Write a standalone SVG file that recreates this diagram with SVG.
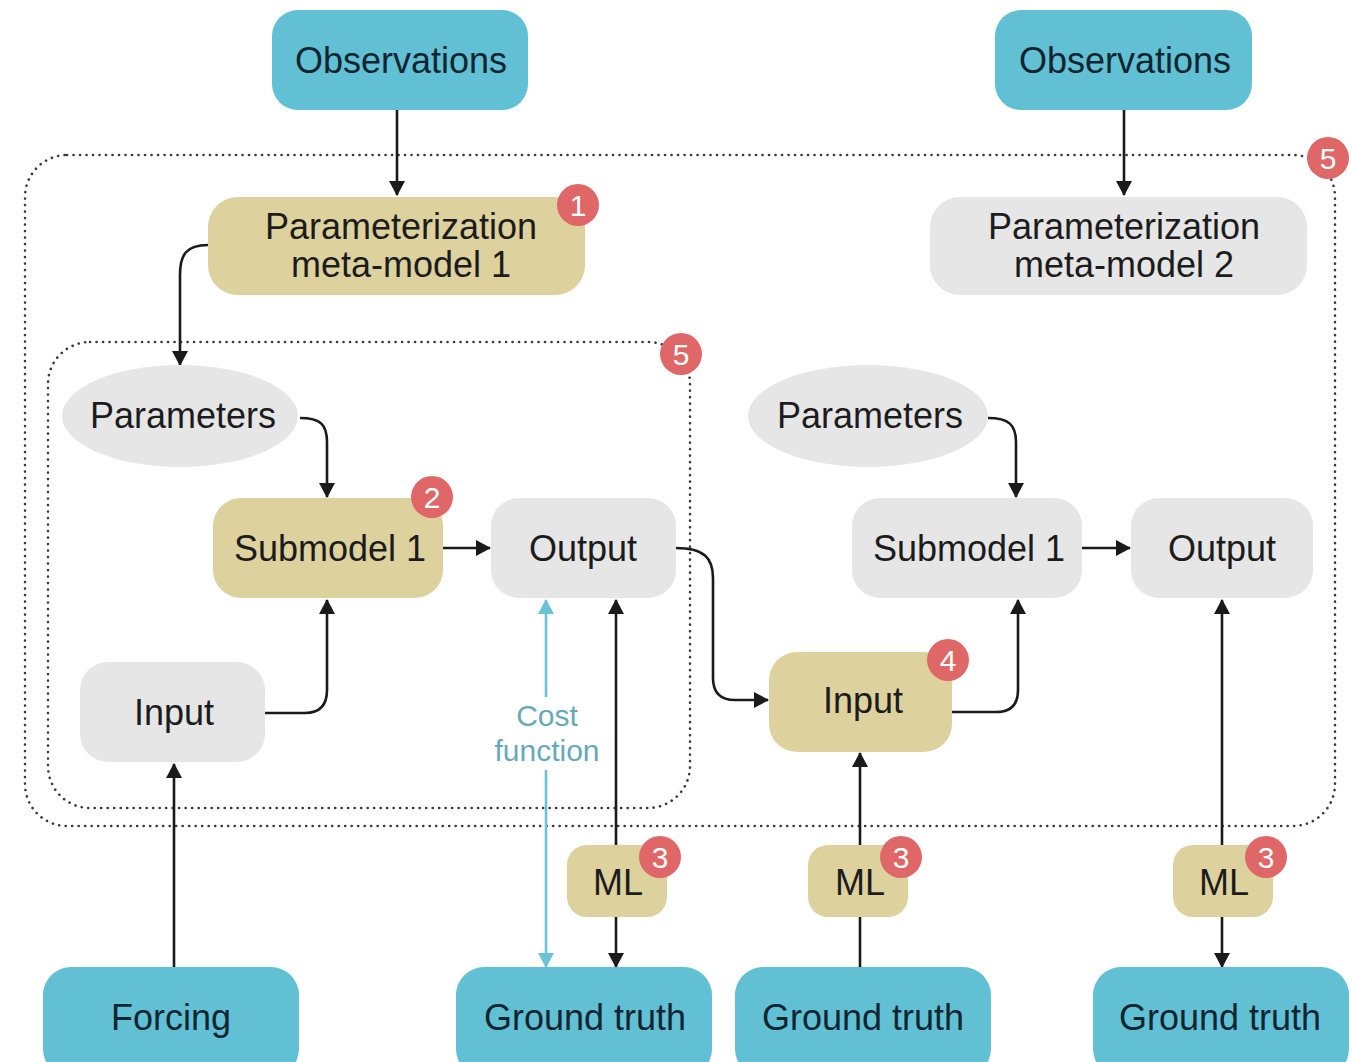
<svg xmlns="http://www.w3.org/2000/svg" width="1353" height="1062" viewBox="0 0 1353 1062">
  <style>
    .lbl { font-family: "Liberation Sans", Arial, Helvetica, sans-serif; font-size: 36px; fill: #1c1c1c; text-anchor: middle; }
    .lbl-dark { fill: #0f2530; }
    .teal { fill: #62c0d5; }
    .tan { fill: #ddd19d; }
    .grey { fill: #e6e6e6; }
    .badge circle { fill: #df6767; }
    .badge text { font-family: "Liberation Sans", Arial, sans-serif; font-size: 30px; fill: #ffffff; text-anchor: middle; }
    .frame { fill: none; stroke: #3a3a3a; stroke-width: 2.6; stroke-dasharray: 0.1 6.4; stroke-linecap: round; }
    .edge { fill: none; stroke: #1a1a1a; stroke-width: 2.6; }
    .cost { fill: none; stroke: #6cc3d8; stroke-width: 2.6; }
    .cost-lbl { font-family: "Liberation Sans", Arial, sans-serif; font-size: 30px; fill: #68a9b9; text-anchor: middle; }
  </style>
  <defs>
    <marker id="arrow" viewBox="0 0 15 16" refX="14" refY="8" markerWidth="15" markerHeight="16" markerUnits="userSpaceOnUse" orient="auto">
      <path d="M0,0 L15,8 L0,16 Z" fill="#1a1a1a"/>
    </marker>
    <marker id="arrow-cost" viewBox="0 0 15 16" refX="14" refY="8" markerWidth="15" markerHeight="16" markerUnits="userSpaceOnUse" orient="auto">
      <path d="M0,0 L15,8 L0,16 Z" fill="#6cc3d8"/>
    </marker>
  </defs>

  <rect width="1353" height="1062" fill="#ffffff"/>

  <!-- grouping frames -->
  <g id="frames">
    <rect class="frame" x="25" y="155" width="1310" height="671" rx="42"/>
    <rect class="frame" x="48" y="342" width="642" height="466" rx="42"/>
  </g>

  <!-- connectors -->
  <g id="connectors">
    <path class="edge" d="M397,110 V195" marker-end="url(#arrow)"/>
    <path class="edge" d="M1124,110 V195" marker-end="url(#arrow)"/>
    <path class="edge" d="M208,245 C186,245 180,255 180,275 V365" marker-end="url(#arrow)"/>
    <path class="edge" d="M300,418 C321,418 327,425 327,442 V497" marker-end="url(#arrow)"/>
    <path class="edge" d="M265,713 H305 Q327,713 327,690 V600" marker-end="url(#arrow)"/>
    <path class="edge" d="M443,548 H490" marker-end="url(#arrow)"/>
    <path class="edge" d="M174,967 V764" marker-end="url(#arrow)"/>
    <path class="cost" d="M546,697 V600" marker-end="url(#arrow-cost)"/>
    <path class="cost" d="M546,770 V967" marker-end="url(#arrow-cost)"/>
    <path class="edge" d="M616,845 V600" marker-end="url(#arrow)"/>
    <path class="edge" d="M616,917 V967" marker-end="url(#arrow)"/>
    <path class="edge" d="M676,548 C704,548 713,558 713,578 V678 Q713,700 735,700 H768" marker-end="url(#arrow)"/>
    <path class="edge" d="M952,712 H996 Q1018,712 1018,690 V600" marker-end="url(#arrow)"/>
    <path class="edge" d="M988,418 C1009,418 1016,425 1016,442 V497" marker-end="url(#arrow)"/>
    <path class="edge" d="M1082,548 H1130" marker-end="url(#arrow)"/>
    <path class="edge" d="M860,967 V917"/>
    <path class="edge" d="M860,845 V753" marker-end="url(#arrow)"/>
    <path class="edge" d="M1222,845 V600" marker-end="url(#arrow)"/>
    <path class="edge" d="M1222,917 V967" marker-end="url(#arrow)"/>
  </g>

  <!-- top sources -->
  <g id="observations-1">
    <rect class="teal" x="272" y="10" width="256" height="100" rx="26"/>
    <text class="lbl lbl-dark" x="401" y="73">Observations</text>
  </g>
  <g id="observations-2">
    <rect class="teal" x="995" y="10" width="257" height="100" rx="26"/>
    <text class="lbl lbl-dark" x="1125" y="73">Observations</text>
  </g>

  <!-- meta-models -->
  <g id="meta-model-1">
    <rect class="tan" x="208" y="197" width="377" height="98" rx="30"/>
    <text class="lbl" x="401" y="239">Parameterization</text>
    <text class="lbl" x="401" y="277">meta-model 1</text>
  </g>
  <g id="meta-model-2">
    <rect class="grey" x="930" y="197" width="377" height="98" rx="30"/>
    <text class="lbl" x="1124" y="239">Parameterization</text>
    <text class="lbl" x="1124" y="277">meta-model 2</text>
  </g>

  <!-- first submodel block -->
  <g id="parameters-1">
    <ellipse class="grey" cx="180" cy="416" rx="118" ry="51"/>
    <text class="lbl" x="183" y="428">Parameters</text>
  </g>
  <g id="submodel-1a">
    <rect class="tan" x="213" y="498" width="230" height="100" rx="28"/>
    <text class="lbl" x="330" y="561">Submodel 1</text>
  </g>
  <g id="output-1">
    <rect class="grey" x="491" y="498" width="185" height="100" rx="28"/>
    <text class="lbl" x="583" y="561">Output</text>
  </g>
  <g id="input-1">
    <rect class="grey" x="80" y="662" width="185" height="100" rx="28"/>
    <text class="lbl" x="174" y="725">Input</text>
  </g>

  <!-- second submodel block -->
  <g id="parameters-2">
    <ellipse class="grey" cx="868" cy="416" rx="120" ry="51"/>
    <text class="lbl" x="870" y="428">Parameters</text>
  </g>
  <g id="submodel-1b">
    <rect class="grey" x="852" y="498" width="230" height="100" rx="28"/>
    <text class="lbl" x="969" y="561">Submodel 1</text>
  </g>
  <g id="output-2">
    <rect class="grey" x="1131" y="498" width="182" height="100" rx="28"/>
    <text class="lbl" x="1222" y="561">Output</text>
  </g>
  <g id="input-2">
    <rect class="tan" x="769" y="652" width="183" height="100" rx="28"/>
    <text class="lbl" x="863" y="713">Input</text>
  </g>

  <!-- cost function label -->
  <g id="cost-function">
    <text class="cost-lbl" x="547" y="726">Cost</text>
    <text class="cost-lbl" x="547" y="761">function</text>
  </g>

  <!-- ML emulators -->
  <g id="ml-1">
    <rect class="tan" x="567" y="845" width="100" height="72" rx="20"/>
    <text class="lbl" x="618" y="895">ML</text>
  </g>
  <g id="ml-2">
    <rect class="tan" x="808" y="845" width="100" height="72" rx="20"/>
    <text class="lbl" x="860" y="895">ML</text>
  </g>
  <g id="ml-3">
    <rect class="tan" x="1173" y="845" width="100" height="72" rx="20"/>
    <text class="lbl" x="1224" y="895">ML</text>
  </g>

  <!-- bottom sources -->
  <g id="forcing">
    <rect class="teal" x="43" y="967" width="256" height="110" rx="28"/>
    <text class="lbl lbl-dark" x="171" y="1030">Forcing</text>
  </g>
  <g id="ground-truth-1">
    <rect class="teal" x="456" y="967" width="256" height="110" rx="28"/>
    <text class="lbl lbl-dark" x="585" y="1030">Ground truth</text>
  </g>
  <g id="ground-truth-2">
    <rect class="teal" x="735" y="967" width="256" height="110" rx="28"/>
    <text class="lbl lbl-dark" x="863" y="1030">Ground truth</text>
  </g>
  <g id="ground-truth-3">
    <rect class="teal" x="1093" y="967" width="256" height="110" rx="28"/>
    <text class="lbl lbl-dark" x="1220" y="1030">Ground truth</text>
  </g>

  <!-- numbered badges -->
  <g id="badges" class="badge">
    <g><circle cx="578" cy="205" r="21"/><text x="578" y="216">1</text></g>
    <g><circle cx="432" cy="497" r="21"/><text x="432" y="508">2</text></g>
    <g><circle cx="660" cy="857" r="21"/><text x="660" y="868">3</text></g>
    <g><circle cx="901" cy="857" r="21"/><text x="901" y="868">3</text></g>
    <g><circle cx="1266" cy="857" r="21"/><text x="1266" y="868">3</text></g>
    <g><circle cx="948" cy="660" r="21"/><text x="948" y="671">4</text></g>
    <g><circle cx="681" cy="354" r="21"/><text x="681" y="365">5</text></g>
    <g><circle cx="1328" cy="158" r="21"/><text x="1328" y="169">5</text></g>
  </g>
</svg>
